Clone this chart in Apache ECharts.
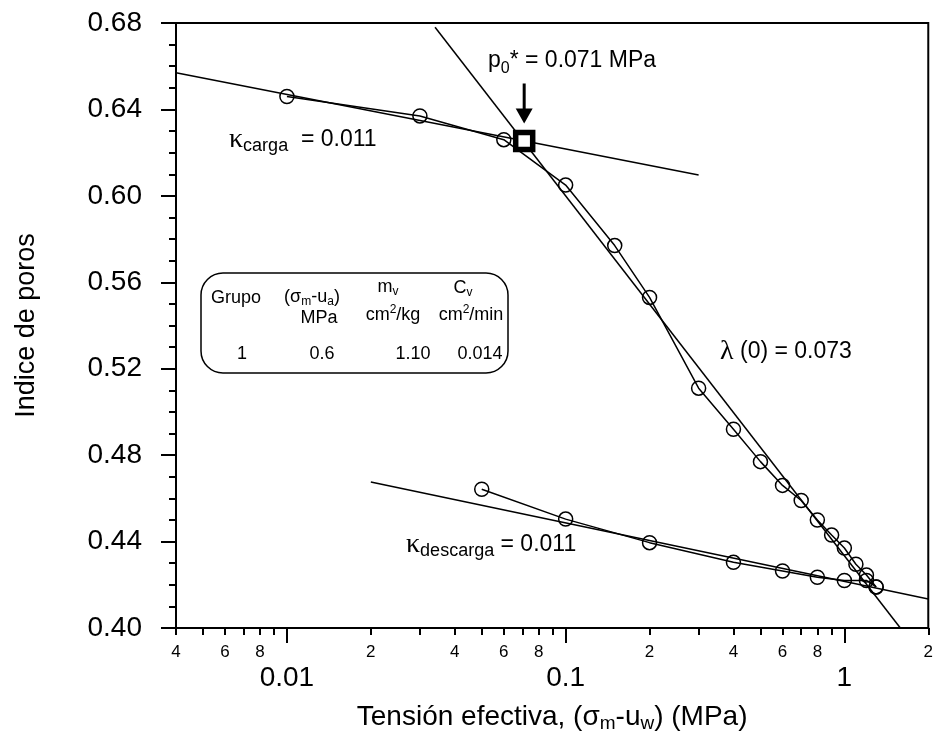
<!DOCTYPE html>
<html><head><meta charset="utf-8">
<script src="https://cdn.jsdelivr.net/npm/echarts@6/dist/echarts.min.js"></script>
<style>html,body{margin:0;padding:0;background:#fff}#c{width:936px;height:738px}</style>
</head><body><div id="c"></div>
<script>
// ---- data (MPa, void ratio) ----
const loadP = [0.01, 0.03, 0.06, 0.1, 0.15, 0.2, 0.3, 0.4, 0.5, 0.6, 0.7, 0.8, 0.9, 1.0, 1.1, 1.2, 1.3];
const loadE = [0.646, 0.637, 0.626, 0.605, 0.577, 0.553, 0.511, 0.492, 0.477, 0.466, 0.459, 0.450, 0.443, 0.437, 0.4295, 0.4245, 0.419];
const unloadP = [1.3, 1.2, 1.0, 0.8, 0.6, 0.4, 0.2, 0.1, 0.05];
const unloadE = [0.419, 0.422, 0.422, 0.4235, 0.4264, 0.4304, 0.4395, 0.4504, 0.4642];
const kappaLoadP = [0.004, 0.3];
const kappaLoadE = [0.657, 0.6097];
const lambdaP = [0.034, 1.588];
const lambdaE = [0.678, 0.40];
const kappaUnloadP = [0.02, 2];
const kappaUnloadE = [0.4676, 0.4134];
const p0P = [0.071];
const p0E = [0.6254];
const arrowP = [0.071, 0.071];
const arrowE = [0.652, 0.637];
// ---- axis ticks ----
const xMin = 0.004, xMax = 2;
const minorTickP = [0.004,0.005,0.006,0.007,0.008,0.009,0.02,0.03,0.04,0.05,0.06,0.07,0.08,0.09,0.2,0.3,0.4,0.5,0.6,0.7,0.8,0.9,2];
const minorLabelP = [0.004,0.006,0.008,0.02,0.04,0.06,0.08,0.2,0.4,0.6,0.8,2];
const majorTickP = [0.01, 0.1, 1];
const majorLabels = ['0.01', '0.1', '1'];
const yTicks = [0.40, 0.44, 0.48, 0.52, 0.56, 0.60, 0.64, 0.68];

const L = Math.log10;
const toXY = (ps, es) => ps.map((p, i) => [L(p), es[i]]);
const FONT = '"Liberation Sans", Arial, sans-serif';
const SERIF = '"Liberation Serif", "Times New Roman", serif';
const f = (s, fam) => s + 'px ' + (fam || FONT);

const chart = echarts.init(document.getElementById('c'), null, {renderer: 'canvas'});

const circleStyle = {color: 'rgba(0,0,0,0)', borderColor: '#000', borderWidth: 1.5};
const lineBlack = {color: '#000', width: 1.5};

function txt(x, y, text, rich, align) {
  return {type: 'text', x: x, y: y, z: 100, style: {
    text: text, rich: rich, font: f(18), fill: '#000',
    textAlign: align || 'center', textVerticalAlign: 'middle'}};
}
const tRich = {
  a: {font: f(18), fill: '#000', verticalAlign: 'middle'},
  s: {font: f(12), fill: '#000', verticalAlign: 'middle', padding: [9, 0, 0, 0]},
  u: {font: f(12), fill: '#000', verticalAlign: 'middle', padding: [0, 0, 10, 0]}
};
const aRich = {
  a: {font: f(23), fill: '#000', verticalAlign: 'middle'},
  g: {font: f(28, SERIF), fill: '#000', verticalAlign: 'middle'},
  s: {font: f(18), fill: '#000', verticalAlign: 'middle', padding: [12, 0, 0, 0]},
  s0: {font: f(16), fill: '#000', verticalAlign: 'middle', padding: [15, 0, 0, 0]}
};

const option = {
  animation: false,
  backgroundColor: '#fff',
  grid: {left: 176, right: 4, top: 23, bottom: 110, show: true, borderColor: '#000', borderWidth: 2},
  xAxis: [{
    type: 'value', min: L(xMin), max: L(xMax), position: 'bottom',
    axisLine: {show: true, onZero: false, lineStyle: {color: '#000', width: 2}},
    axisTick: {show: true, inside: false, length: 7, lineStyle: {color: '#000', width: 2}, customValues: minorTickP.map(L)},
    axisLabel: {show: true, customValues: minorLabelP.map(L), color: '#000', fontFamily: FONT, fontSize: 17, margin: 16,
      formatter: v => String(Math.round(Math.pow(10, v - Math.floor(v + 1e-9))))},
    splitLine: {show: false},
    name: 'Tensión efectiva, (σ{s|m}-u{s|w}) (MPa)', nameLocation: 'middle', nameGap: 73,
    nameTextStyle: {color: '#000', fontFamily: FONT, fontSize: 28,
      rich: {s: {fontSize: 19, fontFamily: FONT, color: '#000', verticalAlign: 'middle', padding: [13, 0, 0, 0]}}}
  }, {
    type: 'value', min: L(xMin), max: L(xMax), position: 'bottom',
    axisLine: {show: false},
    axisTick: {show: true, inside: false, length: 15, lineStyle: {color: '#000', width: 2}, customValues: majorTickP.map(L)},
    axisLabel: {show: true, customValues: majorTickP.map(L), color: '#000', fontFamily: FONT, fontSize: 28, margin: 36,
      formatter: v => { const i = majorTickP.findIndex(p => Math.abs(L(p) - v) < 1e-6); return i >= 0 ? majorLabels[i] : ''; }},
    splitLine: {show: false}
  }],
  yAxis: {
    type: 'value', min: yTicks[0], max: yTicks[yTicks.length - 1], interval: 0.04,
    axisLine: {show: true, onZero: false, lineStyle: {color: '#000', width: 2}},
    axisTick: {show: true, inside: false, length: 15, lineStyle: {color: '#000', width: 2}},
    minorTick: {show: true, splitNumber: 4, length: 7, lineStyle: {color: '#000', width: 2}},
    axisLabel: {color: '#000', fontFamily: FONT, fontSize: 28, margin: 34, formatter: v => v.toFixed(2)},
    splitLine: {show: false},
    name: 'Indice de poros', nameLocation: 'middle', nameGap: 136, nameRotate: 90,
    nameTextStyle: {color: '#000', fontFamily: FONT, fontSize: 27}
  },
  series: [
    {type: 'line', data: toXY(kappaLoadP, kappaLoadE), symbol: 'none', lineStyle: lineBlack, silent: true},
    {type: 'line', data: toXY(lambdaP, lambdaE), symbol: 'none', lineStyle: lineBlack, silent: true},
    {type: 'line', data: toXY(kappaUnloadP, kappaUnloadE), symbol: 'none', lineStyle: lineBlack, silent: true},
    {type: 'line', data: toXY(loadP, loadE), symbol: 'circle', symbolSize: 14, showSymbol: true,
      itemStyle: circleStyle, lineStyle: lineBlack, silent: true},
    {type: 'line', data: toXY(unloadP, unloadE), symbol: 'circle', symbolSize: 14, showSymbol: true,
      itemStyle: circleStyle, lineStyle: lineBlack, silent: true},
    {type: 'scatter', data: toXY(p0P, p0E), symbol: 'rect', symbolSize: 17, z: 5,
      itemStyle: {color: '#fff', borderColor: '#000', borderWidth: 5.5, opacity: 1}, silent: true},
    {type: 'line', symbol: 'none', showSymbol: true, z: 6, silent: true,
      lineStyle: {color: '#000', width: 3}, itemStyle: {color: '#000'},
      data: [{value: [L(arrowP[0]), arrowE[0]]},
             {value: [L(arrowP[1]), arrowE[1]], symbol: 'triangle', symbolRotate: 180, symbolSize: [17, 15]}]}
  ],
  graphic: [
    {type: 'rect', z: 100, shape: {x: 201, y: 273, width: 307, height: 100, r: 22},
      style: {fill: 'none', stroke: '#000', lineWidth: 1.5}},
    txt(236, 298, '{a|Grupo}', tRich),
    txt(312, 297, '{a|(σ}{s|m}{a|-u}{s|a}{a|)}', tRich),
    txt(319, 318, '{a|MPa}', tRich),
    txt(388, 287, '{a|m}{s|v}', tRich),
    txt(393, 315, '{a|cm}{u|2}{a|/kg}', tRich),
    txt(463, 288, '{a|C}{s|v}', tRich),
    txt(471, 315, '{a|cm}{u|2}{a|/min}', tRich),
    txt(242, 354, '{a|1}', tRich),
    txt(322, 354, '{a|0.6}', tRich),
    txt(413, 354, '{a|1.10}', tRich),
    txt(480, 354, '{a|0.014}', tRich),
    txt(488, 61, '{a|p}{s0|0}{a|* = 0.071 MPa}', aRich, 'left'),
    txt(229, 140, '{g|κ}{s|carga}{a|  = 0.011}', aRich, 'left'),
    txt(720, 352, '{g|λ}{a| (0) = 0.073}', aRich, 'left'),
    txt(406, 545, '{g|κ}{s|descarga}{a| = 0.011}', aRich, 'left')
  ]
};
chart.setOption(option);
</script>
</body></html>
